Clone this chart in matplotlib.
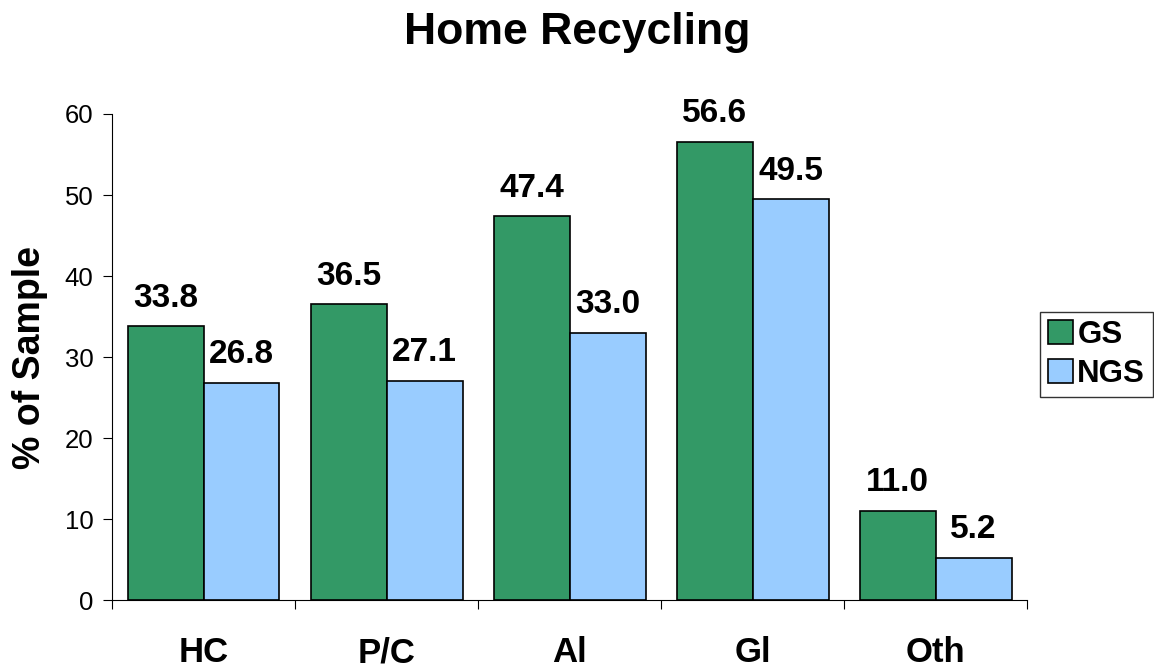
import numpy as np
import matplotlib
matplotlib.use("Agg")
import matplotlib.pyplot as plt

# chart data
categories = ["HC", "P/C", "Al", "Gl", "Oth"]
gs_values = [33.8, 36.5, 47.4, 56.6, 11.0]
ngs_values = [26.8, 27.1, 33.0, 49.5, 5.2]
y_ticks = [0, 10, 20, 30, 40, 50, 60]

plt.rcParams["font.family"] = ["Liberation Sans", "DejaVu Sans"]

fig = plt.figure(figsize=(11.54, 6.69), dpi=100)
ax = fig.add_axes([0.0971, 0.1031, 0.7929, 0.7265])

x = np.arange(len(categories))
width = 0.415
bars_gs = ax.bar(x - width / 2, gs_values, width, color="#339966",
                 edgecolor="black", linewidth=1.2, label="GS")
bars_ngs = ax.bar(x + width / 2, ngs_values, width, color="#99CCFF",
                  edgecolor="black", linewidth=1.2, label="NGS")

# value labels above each bar
for bars, vals in [(bars_gs, gs_values), (bars_ngs, ngs_values)]:
    for b, v in zip(bars, vals):
        ax.annotate(f"{v:.1f}", (b.get_x() + b.get_width() / 2, v),
                    xytext=(0, 9), textcoords="offset points",
                    ha="center", va="bottom", fontsize=24, fontweight="bold")

ax.set_xlim(-0.5, len(categories) - 0.5)
ax.set_ylim(0, 60)
ax.set_yticks(y_ticks)
ax.tick_params(axis="y", labelsize=18.5, length=6.5, pad=7, direction="out")

# category labels centred, ticks at boundaries
ax.set_xticks(np.arange(len(categories) + 1) - 0.5)
ax.set_xticklabels([])
ax.tick_params(axis="x", length=6.5, direction="out")
ax.set_xticks(x, minor=True)
ax.set_xticklabels(categories, minor=True, fontsize=25, fontweight="bold")
ax.tick_params(axis="x", which="minor", length=0, pad=26)

ax.spines["top"].set_visible(False)
ax.spines["right"].set_visible(False)
ax.set_ylabel("% of Sample", fontsize=27, fontweight="bold", labelpad=12)
fig.suptitle("Home Recycling", fontsize=32, fontweight="bold", y=0.982)

leg = fig.legend(loc="upper left", bbox_to_anchor=(0.901, 0.534),
                 prop={"weight": "bold", "size": 22.5}, frameon=True, fancybox=False,
                 edgecolor="black", handlelength=0.8, handleheight=0.8,
                 handletextpad=0.15, borderpad=0.25, labelspacing=0.3,
                 borderaxespad=0)
leg.get_frame().set_linewidth(1.0)

fig.savefig("out.png", dpi=100)
